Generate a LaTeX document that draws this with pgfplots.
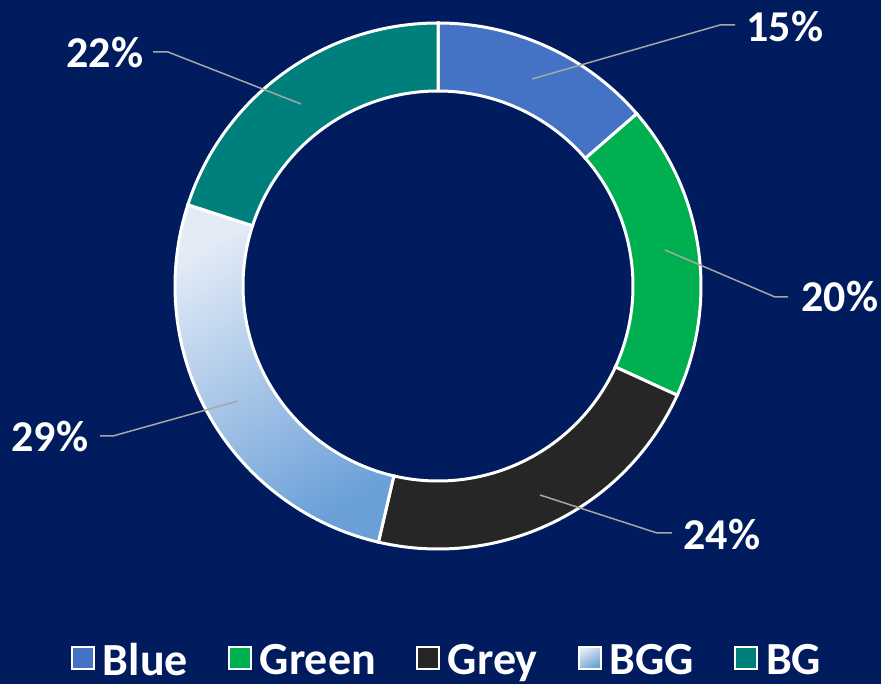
\documentclass[border=0pt]{standalone}
\usepackage{pgfplots}
\pgfplotsset{compat=1.18}
\usepackage{pgfplotstable}
\usepackage{fontspec}
\setmainfont{Carlito}
\definecolor{bgnavy}{HTML}{001C5E}
\definecolor{cblue}{HTML}{4472C4}
\definecolor{cgreen}{HTML}{00B050}
\definecolor{cgrey}{HTML}{262626}
\definecolor{cbggtop}{HTML}{E2EBF6}
\definecolor{cbggbot}{HTML}{6A9FD8}
\definecolor{cbg}{HTML}{00807C}
\definecolor{leadc}{HTML}{A6A6A6}
\pgfplotstableread{
label value
Blue 15
Green 20
Grey 24
BGG 29
BG 22
}\datatable
\newcommand\ringwedge[3]{%
  \path[#1] ([shift={(#2:263pt)}]C) arc[start angle=#2, end angle=#3, radius=263pt]
    -- ([shift={(#3:195pt)}]C) arc[start angle=#3, end angle=#2, radius=195pt] -- cycle;}
\newcommand\lbl{\fontsize{44}{50}\selectfont\bfseries}
\newcommand\lgd{\fontsize{46}{50}\selectfont\bfseries}
\begin{document}
\begin{tikzpicture}
\pgfplotstablegetelem{0}{value}\of\datatable \let\vA\pgfplotsretval
\pgfplotstablegetelem{1}{value}\of\datatable \let\vB\pgfplotsretval
\pgfplotstablegetelem{2}{value}\of\datatable \let\vC\pgfplotsretval
\pgfplotstablegetelem{3}{value}\of\datatable \let\vD\pgfplotsretval
\pgfplotstablegetelem{4}{value}\of\datatable \let\vE\pgfplotsretval
\pgfmathsetmacro\tot{\vA+\vB+\vC+\vD+\vE}
\pgfmathsetmacro\aA{90}
\pgfmathsetmacro\aB{\aA-360*\vA/\tot}
\pgfmathsetmacro\aC{\aB-360*\vB/\tot}
\pgfmathsetmacro\aD{\aC-360*\vC/\tot}
\pgfmathsetmacro\aE{\aD-360*\vD/\tot}
\pgfmathsetmacro\aF{\aE-360*\vE/\tot}
\begin{axis}[
  scale only axis, width=881pt, height=684pt,
  xmin=0, xmax=881, ymin=0, ymax=684,
  hide axis, clip=false,
  legend columns=5,
  legend image code/.code={\draw[#1] (0pt,-9pt) rectangle (22pt,13pt);},
  legend style={at={(axis cs:447,24)}, anchor=center, draw=none, fill=none,
    text=white, font=\lgd, inner sep=0pt,
    /tikz/every even column/.append style={column sep=38pt},
    /tikz/every odd column/.append style={column sep=6pt}},
]
\fill[bgnavy] (axis cs:0,0) rectangle (axis cs:881,684);
\coordinate (C) at (axis cs:438,398);
\ringwedge{fill=cblue, draw=white, line width=3pt}{\aA}{\aB}
\ringwedge{fill=cgreen, draw=white, line width=3pt}{\aB}{\aC}
\ringwedge{fill=cgrey, draw=white, line width=3pt}{\aC}{\aD}
\ringwedge{top color=cbggtop, bottom color=cbggbot, shading angle=30, draw=white, line width=3pt}{\aD}{\aE}
\ringwedge{fill=cbg, draw=white, line width=3pt}{\aE}{\aF}
% leader lines
\draw[leadc, line width=1.5pt] (axis cs:532,605) -- (axis cs:720,659) -- (axis cs:735,659);
\draw[leadc, line width=1.5pt] (axis cs:665,434) -- (axis cs:775,387) -- (axis cs:788,387);
\draw[leadc, line width=1.5pt] (axis cs:540,189) -- (axis cs:657,151) -- (axis cs:672,151);
\draw[leadc, line width=1.5pt] (axis cs:238,283) -- (axis cs:113,248) -- (axis cs:100,248);
\draw[leadc, line width=1.5pt] (axis cs:301,580) -- (axis cs:168,632) -- (axis cs:153,632);
% labels
\node[anchor=base, text=white, font=\lbl, inner sep=0pt] at (axis cs:785,642) {15\%};
\node[anchor=base, text=white, font=\lbl, inner sep=0pt] at (axis cs:840,372) {20\%};
\node[anchor=base, text=white, font=\lbl, inner sep=0pt] at (axis cs:722,134) {24\%};
\node[anchor=base, text=white, font=\lbl, inner sep=0pt] at (axis cs:50,232) {29\%};
\node[anchor=base, text=white, font=\lbl, inner sep=0pt] at (axis cs:105,616) {22\%};
% legend
\addlegendimage{fill=cblue, draw=white, line width=2pt}
\addlegendentry{Blue}
\addlegendimage{fill=cgreen, draw=white, line width=2pt}
\addlegendentry{Green}
\addlegendimage{fill=cgrey, draw=white, line width=2pt}
\addlegendentry{Grey}
\addlegendimage{top color=cbggtop, bottom color=cbggbot, shading angle=30, draw=white, line width=2pt}
\addlegendentry{BGG}
\addlegendimage{fill=cbg, draw=white, line width=2pt}
\addlegendentry{BG}
\end{axis}
\end{tikzpicture}
\end{document}
